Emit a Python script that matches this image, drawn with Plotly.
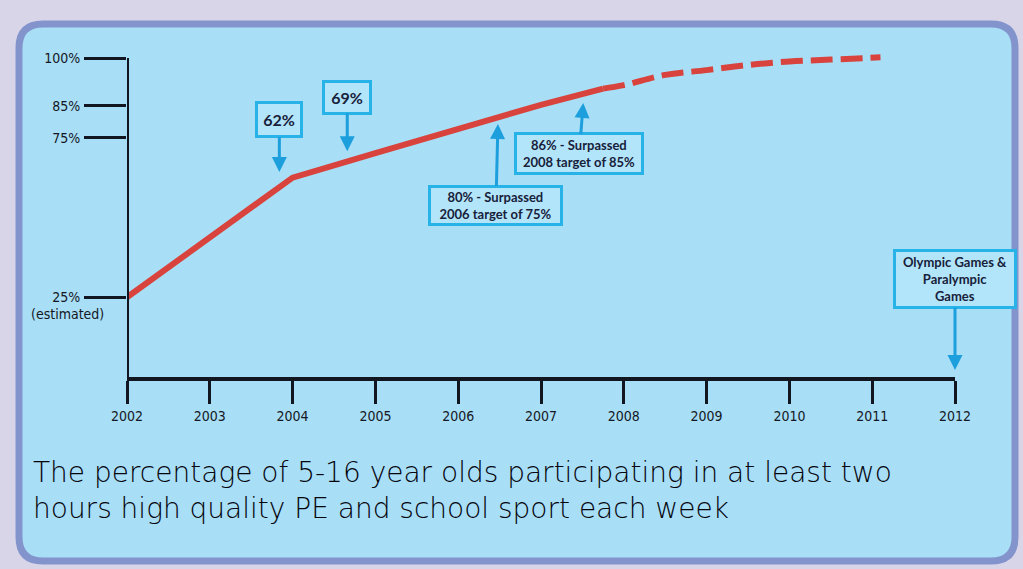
import plotly.graph_objects as go

# ---- data ----
solid_years = [2002, 2004, 2005, 2006, 2007, 2007.75]
solid_values = [25, 62.5, 70.2, 77.7, 85.3, 90.4]
dashed_years = [2007.75, 2008, 2008.5, 2009, 2009.5, 2010, 2010.5, 2011.1]
dashed_values = [90.4, 91.5, 94.7, 96.2, 97.8, 98.9, 99.5, 100.2]

x_ticks = list(range(2002, 2013))
y_ticks = [25, 75, 85, 100]
y_tick_labels = ["25%", "75%", "85%", "100%"]

callouts = [
    # text, tip year, tip value, offset x px, offset y px, box w, box h, font size
    ("<b>62%</b>", 2003.84, 64.3, 0, -52, 40, 29, 16),
    ("<b>69%</b>", 2004.66, 70.8, 0, -54, 42, 27, 16),
    ("<b>80% - Surpassed<br>2006 target of 75%</b>", 2006.48, 79.3, -2, 81, 127, 33, 13),
    ("<b>86% - Surpassed<br>2008 target of 85%</b>", 2007.51, 85.9, -4, 51, 122, 35, 13),
    ("<b>Olympic Games &amp;<br>Paralympic<br>Games</b>", 2012.0, 2.2, 0, -91, 116, 52, 13),
]

caption = ("The percentage of 5-16 year olds participating in at least two<br>"
           "hours high quality PE and school sport each week")

# ---- geometry helpers (pixel layout) ----
W, H = 1023, 569
X0_PX, X1_PX = 127, 955          # 2002 .. 2012
Y0_PX = 377                      # 0 %
PX_PER_PCT = 3.19
Y_TOP = 110
ytop_px = Y0_PX - Y_TOP * PX_PER_PCT

RED = "#d8443d"
BOX_BORDER = "#27b2e8"
BOX_FILL = "#b3e5fa"
ARROW = "#1c9fdc"
AXIS = "#121620"
LABEL_FONT = "Liberation Sans Narrow, DejaVu Sans Condensed, sans-serif"

fig = go.Figure()

fig.add_trace(go.Scatter(
    x=solid_years, y=solid_values, mode="lines",
    line=dict(color=RED, width=6), hoverinfo="skip", showlegend=False))
fig.add_trace(go.Scatter(
    x=dashed_years, y=dashed_values, mode="lines",
    line=dict(color=RED, width=6, dash="22px,8px", shape="spline"),
    hoverinfo="skip", showlegend=False))

# rounded panel path (paper coords)
def rounded_rect(x0, y0, x1, y1, r):
    rx, ry = r / W, r / H
    X0, X1 = x0 / W, x1 / W
    Y0, Y1 = 1 - y1 / H, 1 - y0 / H  # bottom, top in paper
    return (f"M {X0+rx},{Y0} L {X1-rx},{Y0} Q {X1},{Y0} {X1},{Y0+ry} "
            f"L {X1},{Y1-ry} Q {X1},{Y1} {X1-rx},{Y1} "
            f"L {X0+rx},{Y1} Q {X0},{Y1} {X0},{Y1-ry} "
            f"L {X0},{Y0+ry} Q {X0},{Y0} {X0+rx},{Y0} Z")

shapes = [
    dict(type="path", xref="paper", yref="paper",
         path=rounded_rect(19, 24, 1015, 561, 24),
         fillcolor="#a9def7", line=dict(color="#8393cb", width=7), layer="below"),
    dict(type="line", xref="x", yref="y", x0=x_ticks[0], x1=x_ticks[0],
         y0=0, y1=max(y_ticks), line=dict(color=AXIS, width=4), layer="above"),
]

annotations = []
for text, tx, ty, ax, ay, bw, bh, fs in callouts:
    annotations.append(dict(
        x=tx, y=ty, xref="x", yref="y", text=text, showarrow=True,
        ax=ax, ay=ay, arrowhead=2, arrowsize=1, arrowwidth=3, arrowcolor=ARROW,
        standoff=0, startstandoff=0,
        bgcolor=BOX_FILL, bordercolor=BOX_BORDER, borderwidth=3, borderpad=1,
        width=bw, height=bh, align="center",
        font=dict(family="Lato, Noto Sans, sans-serif", size=fs, color="#17213a")))

annotations.append(dict(
    xref="paper", yref="paper", x=67 / W, y=1 - 314 / H, text="(estimated)",
    showarrow=False, xanchor="center", yanchor="middle",
    font=dict(family=LABEL_FONT, size=14, color="#141824")))

annotations.append(dict(
    xref="paper", yref="paper", x=31 / W, y=1 - 490 / H, text=caption,
    showarrow=False, xanchor="left", yanchor="middle", align="left",
    font=dict(family="DejaVu Sans, Open Sans, sans-serif", size=28,
              color="#05050d", weight=300)))

fig.update_layout(
    width=W, height=H,
    margin=dict(l=0, r=0, t=0, b=0, pad=0, autoexpand=False),
    paper_bgcolor="#d8d5e8", plot_bgcolor="rgba(0,0,0,0)",
    shapes=shapes, annotations=annotations, showlegend=False,
    xaxis=dict(range=[x_ticks[0], x_ticks[-1]], domain=[X0_PX / W, X1_PX / W],
               automargin=False,
               tickvals=x_ticks, ticktext=[str(v) for v in x_ticks],
               showline=True, linewidth=4, linecolor=AXIS,
               ticks="outside", ticklen=23, tickwidth=3, tickcolor=AXIS,
               showgrid=False, zeroline=False, fixedrange=True,
               tickfont=dict(family=LABEL_FONT, size=14, color="#141824")),
    yaxis=dict(range=[0, Y_TOP], domain=[(H - Y0_PX) / H, (H - ytop_px) / H],
               automargin=False,
               tickvals=y_ticks, ticktext=y_tick_labels,
               showline=False, ticks="outside", ticklen=42, tickwidth=3,
               tickcolor=AXIS, showgrid=False, zeroline=False, fixedrange=True,
               ticklabelstandoff=1,
               tickfont=dict(family=LABEL_FONT, size=14, color="#141824")),
)

fig.write_html("out.html")
